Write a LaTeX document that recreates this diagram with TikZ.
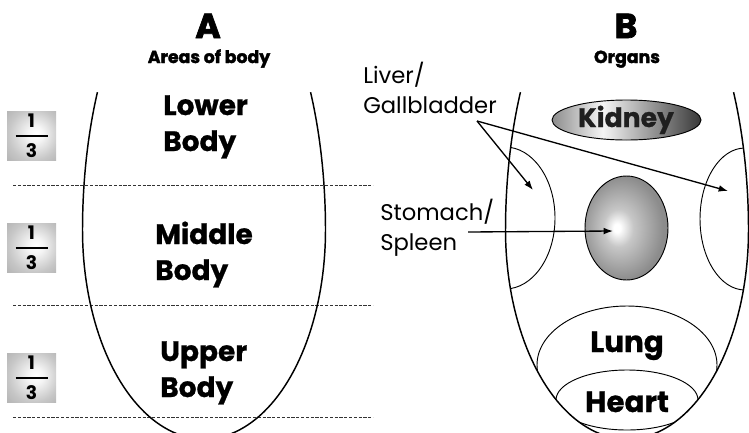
\documentclass[tikz,border=0pt]{standalone}
\usepackage{fontspec}
\setmainfont{Poppins}
\newfontfamily\heavyfont{Poppins}[FakeBold=2]
\newfontfamily\semiheavyfont{Poppins}[FakeBold=0.8]
\usetikzlibrary{arrows.meta,shadings}
\pgfdeclarehorizontalshading{kidshade}{100bp}{color(0bp)=(black!45); color(25bp)=(black!45); color(42bp)=(black!4); color(75bp)=(black!78); color(100bp)=(black!78)}
\pgfdeclareradialshading{stomshade}{\pgfpoint{-6bp}{0bp}}{color(0bp)=(white); color(2bp)=(white); color(9bp)=(black!22); color(25bp)=(black!45); color(50bp)=(black!45)}
\pgfdeclareradialshading{fracshade}{\pgfpoint{5bp}{2bp}}{color(0bp)=(white); color(8bp)=(black!4); color(26bp)=(black!22); color(50bp)=(black!38)}
\newcommand{\onethird}{$\displaystyle{\hbox to 24pt{\hss\textbf{1}\hss}\above 1.6pt\hbox to 24pt{\hss\textbf{3}\hss}}$}
\tikzset{
  bodyline/.style={line width=1.1pt},
  organ/.style={line width=0.7pt},
  dashline/.style={line width=0.6pt, black!80, dash pattern=on 2.4pt off 1.2pt},
  arr/.style={line width=1pt, -{Latex[length=7pt,width=5pt]}},
  region/.style={font=\fontsize{21}{27}\selectfont\semiheavyfont\bfseries, align=left, inner sep=0pt, anchor=base west},
  organlabel/.style={font=\fontsize{22}{27}\selectfont\semiheavyfont\bfseries, inner sep=0pt, anchor=base},
  callout/.style={font=\fontsize{17}{22.5}\selectfont, align=left, inner sep=0pt, anchor=base west},
  bigtitle/.style={font=\fontsize{26}{30}\selectfont\heavyfont\bfseries, inner sep=0pt, anchor=base},
  subtitle/.style={font=\fontsize{13}{16}\selectfont\heavyfont\bfseries, inner sep=0pt, anchor=base},
  fracbox/.style={shading=fracshade, minimum width=36.75pt, minimum height=36.75pt, inner sep=0pt, font=\fontsize{14}{16}\selectfont}
}
\begin{document}
\begin{tikzpicture}[x=0.75pt,y=-0.75pt]
\useasboundingbox (0,0) rectangle (749,432);
\clip (0,0) rectangle (749,432);

% dashed divisions
\coordinate (d1a) at (13,185); \coordinate (d1b) at (373,185);
\coordinate (d2a) at (13,305); \coordinate (d2b) at (373,305);
\coordinate (d3a) at (13,417); \coordinate (d3b) at (373,417);
\draw[dashline] (d1a) -- (d1b);
\draw[dashline] (d2a) -- (d2b);
\draw[dashline] (d3a) -- (d3b);

% body A outline
\draw[bodyline] plot[domain=208.7:180,samples=25] ({204+121.5*cos(\x)},{230+287*sin(\x)})
  -- plot[domain=180:0,samples=90] ({204+121.5*cos(\x)},{230+209*sin(\x)})
  -- plot[domain=360:331.3,samples=25] ({204+121.5*cos(\x)},{230+287*sin(\x)});

% body B organs clipped to outline
\begin{scope}
\clip plot[domain=208.7:180,samples=25] ({627+121.5*cos(\x)},{230+287*sin(\x)})
  -- plot[domain=180:0,samples=90] ({627+121.5*cos(\x)},{230+209*sin(\x)})
  -- plot[domain=360:331.3,samples=25] ({627+121.5*cos(\x)},{230+287*sin(\x)}) -- cycle;
\draw[organ] (505,218) ellipse [x radius=50, y radius=71];
\draw[organ] (745,219) ellipse [x radius=45, y radius=71];
\draw[organ] (627,365) ellipse [x radius=90, y radius=59];
\draw[organ, fill=white] (627,400) ellipse [x radius=71, y radius=30];
\end{scope}

% body B outline
\draw[bodyline] plot[domain=208.7:180,samples=25] ({627+121.5*cos(\x)},{230+287*sin(\x)})
  -- plot[domain=180:0,samples=90] ({627+121.5*cos(\x)},{230+209*sin(\x)})
  -- plot[domain=360:331.3,samples=25] ({627+121.5*cos(\x)},{230+287*sin(\x)});

% kidney and stomach
\draw[organ, shading=kidshade] (626.5,120) ellipse [x radius=74.5, y radius=20];
\draw[organ, shading=stomshade] (626.5,228) ellipse [x radius=41.5, y radius=52];

% titles
\node[bigtitle] (tA) at (208,38) {A};
\node[subtitle] (sA) at (209,63) {Areas of body};
\node[bigtitle] (tB) at (626,38) {B};
\node[subtitle] (sB) at (627,63) {Organs};

% fraction boxes
\node[fracbox] (f1) at (31.5,135.5) {\onethird};
\node[fracbox] (f2) at (31.5,247.5) {\onethird};
\node[fracbox] (f3) at (31.5,377.5) {\onethird};

% region labels (anchor at baseline of last line)
\node[region] (lower) at (163,151) {Lower\\Body};
\node[region] (middle) at (155,280) {Middle\\Body};
\node[region] (upper) at (160,397) {Upper\\Body};

% organ labels
\node[organlabel, font=\fontsize{20}{24}\selectfont\semiheavyfont\bfseries, text=black!88] (kid) at (626,127) {Kidney};
\node[organlabel] (lung) at (627,352) {Lung};
\node[organlabel] (heart) at (627,412) {Heart};

% callouts
\node[callout] (liver) at (363,113) {Liver/\\Gallbladder};
\node[callout] (stom) at (380,250) {Stomach/\\Spleen};

\coordinate (lvs) at (477,121);
\coordinate (lvL) at (533,190);
\coordinate (lvR) at (728,191);
\coordinate (sts) at (468,232);
\coordinate (stE) at (613,231);
\draw[arr] (lvs) -- (lvL);
\draw[arr] (lvs) -- (lvR);
\draw[arr] (sts) -- (stE);
\end{tikzpicture}
\end{document}
